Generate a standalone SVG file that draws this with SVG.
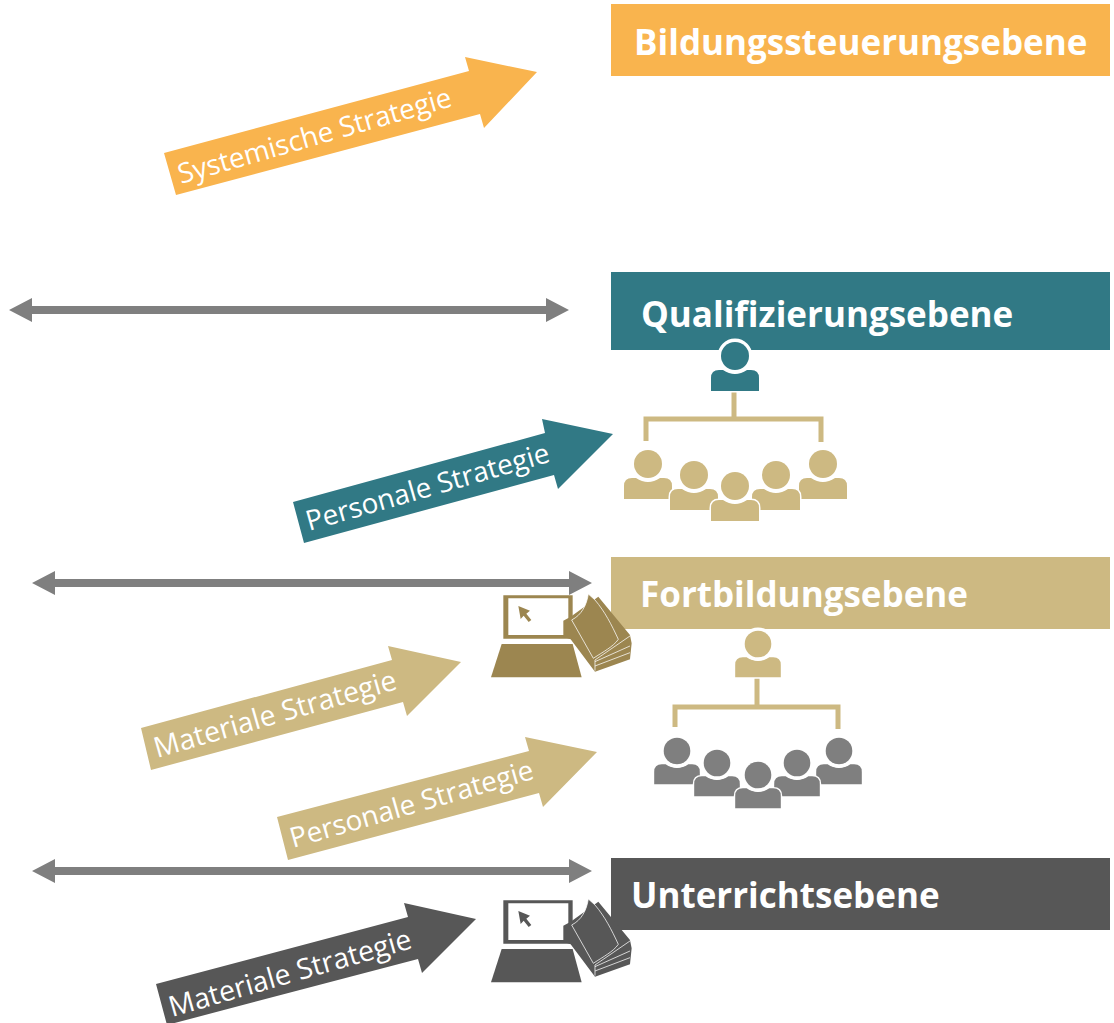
<svg xmlns="http://www.w3.org/2000/svg" width="1114" height="1023" viewBox="0 0 1114 1023">
<style>
.h{font:700 35px "Open Sans",sans-serif;fill:#fff}
.s{font:400 27.9px "Open Sans",sans-serif;fill:#fff}
.m{font-size:28.5px}
.or{fill:#F9B44E}.te{fill:#317985}.ta{fill:#CDB982}.da{fill:#575757}.gr{fill:#7F7F7F}
.ln{stroke:#CDB982;stroke-width:5;fill:none}
</style>
<defs>
<g id="person">
<path d="M-24,35V22Q-24,14-16,14H-12Q0,22,12,14H16Q24,14,24,22V35Z" stroke="#fff" stroke-width="3" paint-order="stroke"/>
<circle r="14" stroke="#fff" stroke-width="7" paint-order="stroke"/>
</g>
<g id="kit" transform="scale(.3333)">
<path fill-rule="evenodd" d="M70,46H278V176H70ZM85,55V165H265V55Z"/>
<path d="M115,78L150,92L139,101L154,120L146,126L131,107L122,117Z"/>
<path d="M65,192H278L305,292H33Z"/>
<path d="M250,122L272,110L355,50L450,165L455,190L450,238L345,275L272,178L250,170Z"/>
<path d="M345,245L450,198M345,258L450,218M450,168L345,240M345,240V272" fill="none" stroke="#fff" stroke-opacity=".75" stroke-width="3"/>
<path d="M325,42C320,75 305,105 275,120L340,235C370,215 400,200 415,178C395,135 375,95 345,60Z" stroke="#fff" stroke-opacity=".75" stroke-width="3"/>
</g>
<path id="dbl" d="M0,0L23,-12V-4H537V-12L560,0L537,12V4H23V12Z"/>
</defs>

<g id="connectors">
<use href="#dbl" x="9" y="310" class="gr"/>
<use href="#dbl" x="32" y="583" class="gr"/>
<use href="#dbl" x="32" y="871" class="gr"/>
<polygon class="or" points="164,153 469,71 465,57 537,72 484,128 480,114 176,195"/>
<polygon class="te" points="293,502 545,433 542,419 613,434 558,489 554,475 304,543"/>
<polygon class="ta" points="141,728 392,660 388,646 461,662 407,716 403,702 151,770"/>
<polygon class="ta" points="277,817 529,751 525,737 597,752 543,807 539,793 288,860"/>
<polygon class="da" points="156,984 408,917 404,903 476,919 422,973 418,959 167,1025"/>
<text class="s" transform="translate(181,184) rotate(-16)">Systemische Strategie</text>
<text class="s" transform="translate(309,531) rotate(-16)">Personale Strategie</text>
<text class="s m" transform="translate(157,758) rotate(-16)">Materiale Strategie</text>
<text class="s" transform="translate(293,848) rotate(-16)">Personale Strategie</text>
<text class="s m" transform="translate(172,1017) rotate(-16)">Materiale Strategie</text>
</g>

<g id="ebene-bildung">
<rect class="or" x="611" y="4" width="499" height="72"/>
<text class="h" x="634" y="55">Bildungssteuerungsebene</text>
</g>
<g id="ebene-qualifizierung">
<rect class="te" x="611" y="272" width="499" height="78"/>
<text class="h" x="641" y="327">Qualifizierungsebene</text>
</g>
<g id="ebene-fortbildung">
<rect class="ta" x="611" y="557" width="499" height="72"/>
<text class="h" x="640" y="607">Fortbildungsebene</text>
</g>
<g id="ebene-unterricht">
<rect class="da" x="611" y="858" width="499" height="72"/>
<text class="h" x="631" y="908">Unterrichtsebene</text>
</g>

<g id="org-qualifizierung">
<path class="ln" d="M734,391V420M646,441V419H821V442"/>
<use href="#person" class="te" x="735" y="356"/>
<g class="ta">
<use href="#person" x="648" y="464"/>
<use href="#person" x="823" y="464"/>
<use href="#person" x="694" y="475"/>
<use href="#person" x="776" y="475"/>
<use href="#person" x="735" y="486"/>
</g>
</g>

<g id="org-fortbildung">
<path class="ln" d="M757,678V708M675,727V707H838V729"/>
<use href="#person" class="ta" transform="translate(758,644) scale(.95)"/>
<g class="gr">
<use href="#person" transform="translate(677,751) scale(.95)"/>
<use href="#person" transform="translate(839,751) scale(.95)"/>
<use href="#person" transform="translate(717,763) scale(.95)"/>
<use href="#person" transform="translate(797,763) scale(.95)"/>
<use href="#person" transform="translate(758,775) scale(.95)"/>
</g>
</g>

<g id="material-fortbildung" transform="translate(480,580)" fill="#9C8650"><use href="#kit"/></g>
<g id="material-unterricht" transform="translate(480,885)" fill="#575757"><use href="#kit"/></g>
</svg>
